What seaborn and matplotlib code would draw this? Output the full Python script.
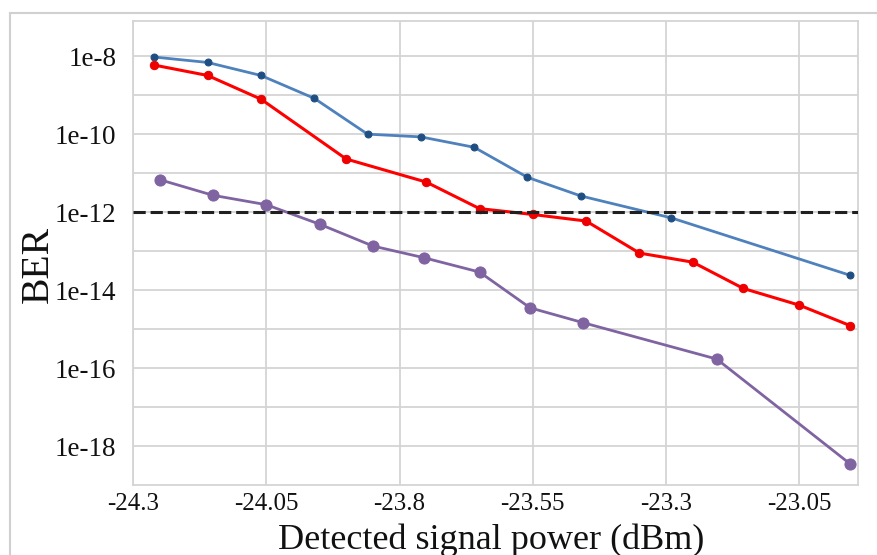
import numpy as np
import pandas as pd
import matplotlib
matplotlib.use("Agg")
import matplotlib.pyplot as plt
import seaborn as sns
from matplotlib.patches import Rectangle

# values (x in dBm, BER)
blue_x = [-24.26, -24.16, -24.06, -23.96, -23.86, -23.76, -23.66, -23.56, -23.46, -23.29, -22.955]
blue_y = [9.5e-9, 6.9e-9, 3.2e-9, 8.3e-10, 1.0e-10, 8.5e-11, 4.6e-11, 7.8e-12, 2.6e-12, 7.1e-13, 2.4e-14]

red_x = [-24.26, -24.16, -24.06, -23.90, -23.75, -23.65, -23.55, -23.45, -23.35, -23.25, -23.155, -23.05, -22.955]
red_y = [5.9e-9, 3.2e-9, 7.9e-10, 2.3e-11, 5.9e-12, 1.23e-12, 8.7e-13, 5.9e-13, 8.9e-14, 5.2e-14, 1.1e-14, 4.1e-15, 1.23e-15]

purple_x = [-24.25, -24.15, -24.05, -23.95, -23.85, -23.755, -23.65, -23.555, -23.455, -23.205, -22.955]
purple_y = [6.8e-12, 2.7e-12, 1.55e-12, 4.9e-13, 1.35e-13, 6.8e-14, 2.9e-14, 3.5e-15, 1.45e-15, 1.7e-16, 3.5e-19]

threshold = 1e-12

x_ticks = [-24.3, -24.05, -23.8, -23.55, -23.3, -23.05]
x_tick_labels = ["-24.3", "-24.05", "-23.8", "-23.55", "-23.3", "-23.05"]
y_decades = [1e-8, 1e-9, 1e-10, 1e-11, 1e-12, 1e-13, 1e-14, 1e-15, 1e-16, 1e-17, 1e-18]
y_tick_labels = ["1e-8", "", "1e-10", "", "1e-12", "", "1e-14", "", "1e-16", "", "1e-18"]

sns.set_style("white")
plt.rcParams["font.family"] = ["Liberation Serif", "DejaVu Serif"]

fig = plt.figure(figsize=(8.77, 5.55), dpi=100)
ax = fig.add_axes([133 / 877, 1 - 485 / 555, 725 / 877, 464.3 / 555])

# light outer chart frame, cropped on the right/bottom
fig.patches.append(Rectangle((9.5 / 877, -0.05), 1.2, 1 - 13 / 555 + 0.05,
                             transform=fig.transFigure, fill=False,
                             edgecolor="#d0d0d0", lw=1.5, zorder=0))

sns.lineplot(x=blue_x, y=blue_y, ax=ax, color="#4f81bd", lw=2, marker="o",
             markersize=5, markerfacecolor="#1f4f82", markeredgecolor="#1f4f82", zorder=3)
sns.lineplot(x=red_x, y=red_y, ax=ax, color="#ff0000", lw=2.2, marker="o",
             markersize=6, markerfacecolor="#ee0000", markeredgecolor="#ee0000", zorder=3)
sns.lineplot(x=purple_x, y=purple_y, ax=ax, color="#8064a2", lw=2, marker="o",
             markersize=8, markerfacecolor="#8064a2", markeredgecolor="#8064a2", zorder=3)
ax.axhline(threshold, color="#202020", lw=2.2, ls=(0, (4, 1.6)), zorder=4)

ax.set_yscale("log")
ax.set_xlim(-24.3, -22.94)
ax.set_ylim(10 ** -19.0, 10 ** -7.09)
ax.set_xticks(x_ticks)
ax.set_xticklabels(x_tick_labels)
ax.set_yticks(y_decades)
ax.set_yticklabels(y_tick_labels)
ax.yaxis.set_minor_locator(matplotlib.ticker.NullLocator())
ax.tick_params(length=0, colors="#111111")
ax.tick_params(axis="y", pad=12, labelsize=19.5)
ax.tick_params(axis="x", pad=6, labelsize=18)
ax.grid(True, color="#d4d4d4", lw=1.3)
for s in ax.spines.values():
    s.set_color("#d4d4d4")
    s.set_linewidth(1.3)

ax.set_xlabel("Detected signal power (dBm)", fontsize=26, color="#111111")
ax.xaxis.set_label_coords(0.4945, -0.118)
ax.xaxis.label.set_verticalalignment("center")
ax.set_ylabel("BER", fontsize=28.5, color="#111111")
ax.yaxis.set_label_coords(-0.13, 0.476)
ax.yaxis.label.set_verticalalignment("center")

fig.savefig("out.png", dpi=100)
